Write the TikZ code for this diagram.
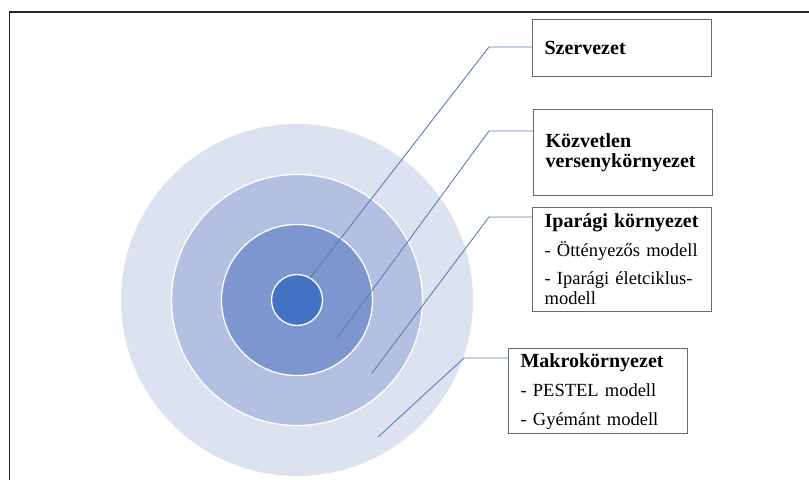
\documentclass[tikz,border=0pt]{standalone}
\usepackage{fontspec}
\setmainfont{Liberation Serif}
\usetikzlibrary{calc}
\definecolor{ringA}{HTML}{DCE2F0}
\definecolor{ringB}{HTML}{B3C0E1}
\definecolor{ringC}{HTML}{7E96CF}
\definecolor{ringD}{HTML}{4472C4}
\definecolor{leader}{HTML}{5A7DB9}
\definecolor{boxline}{HTML}{5E6A78}
\newcommand{\hd}[1]{{\fontsize{20bp}{20bp}\selectfont\bfseries\mbox{#1}}}
\tikzset{
  infobox/.style={draw=boxline, line width=1.2bp, rectangle, anchor=north west,
    fill=white, inner xsep=12bp, inner ysep=0bp, align=left,
    font=\fontsize{18.5bp}{20bp}\selectfont},
  leaderline/.style={draw=leader, line width=0.9bp},
  ring/.style={circle, draw=white, line width=1.3bp, inner sep=0pt}
}
\begin{document}
\begin{tikzpicture}[x=1bp,y=-1bp]
\useasboundingbox (0,0) rectangle (809,480);
% frame
\draw[line width=1.3bp, black!85] (9.5,480) -- (9.5,12) -- (809,12);
% rings
\node[ring, fill=ringA, draw=none, minimum size=352bp] (outer) at (297,300) {};
\node[ring, fill=ringB, minimum size=251bp] (second) at (297,300) {};
\node[ring, fill=ringC, minimum size=151bp] (third) at (297,300) {};
\node[ring, fill=ringD, minimum size=51bp] (core) at (297,300) {};
% boxes
\node[infobox, text width=155bp, minimum height=57bp] (sz) at (532,19) {\hd{Szervezet}};
\node[infobox, text width=155bp, minimum height=86bp] (kv) at (533,109) {\hd{Közvetlen}\\\hd{versenykörnyezet}};
\node[infobox, text width=155bp, minimum height=104bp] (ip) at (532,207) {\hd{Iparági környezet}\\[9bp]- Öttényezős modell\\[8bp]- Iparági életciklus-\\modell};
\node[infobox, text width=155bp, minimum height=85bp] (mk) at (508,348) {\hd{Makrokörnyezet}\\[9bp]- PESTEL modell\\[9bp]- Gyémánt modell};
% leader end points
\coordinate (eS) at (310,278);
\coordinate (eK) at (337,338);
\coordinate (eI) at (372,373);
\coordinate (eM) at (378,437);
% leaders
\draw[leaderline] ($(sz.north west)+(0,28)$) -- (489,47) -- (eS);
\draw[leaderline] ($(kv.north west)+(0,22)$) -- (489,131) -- (eK);
\draw[leaderline] ($(ip.north west)+(0,10)$) -- (489,217) -- (eI);
\draw[leaderline] ($(mk.north west)+(0,10)$) -- (464,358) -- (eM);
\end{tikzpicture}
\end{document}
